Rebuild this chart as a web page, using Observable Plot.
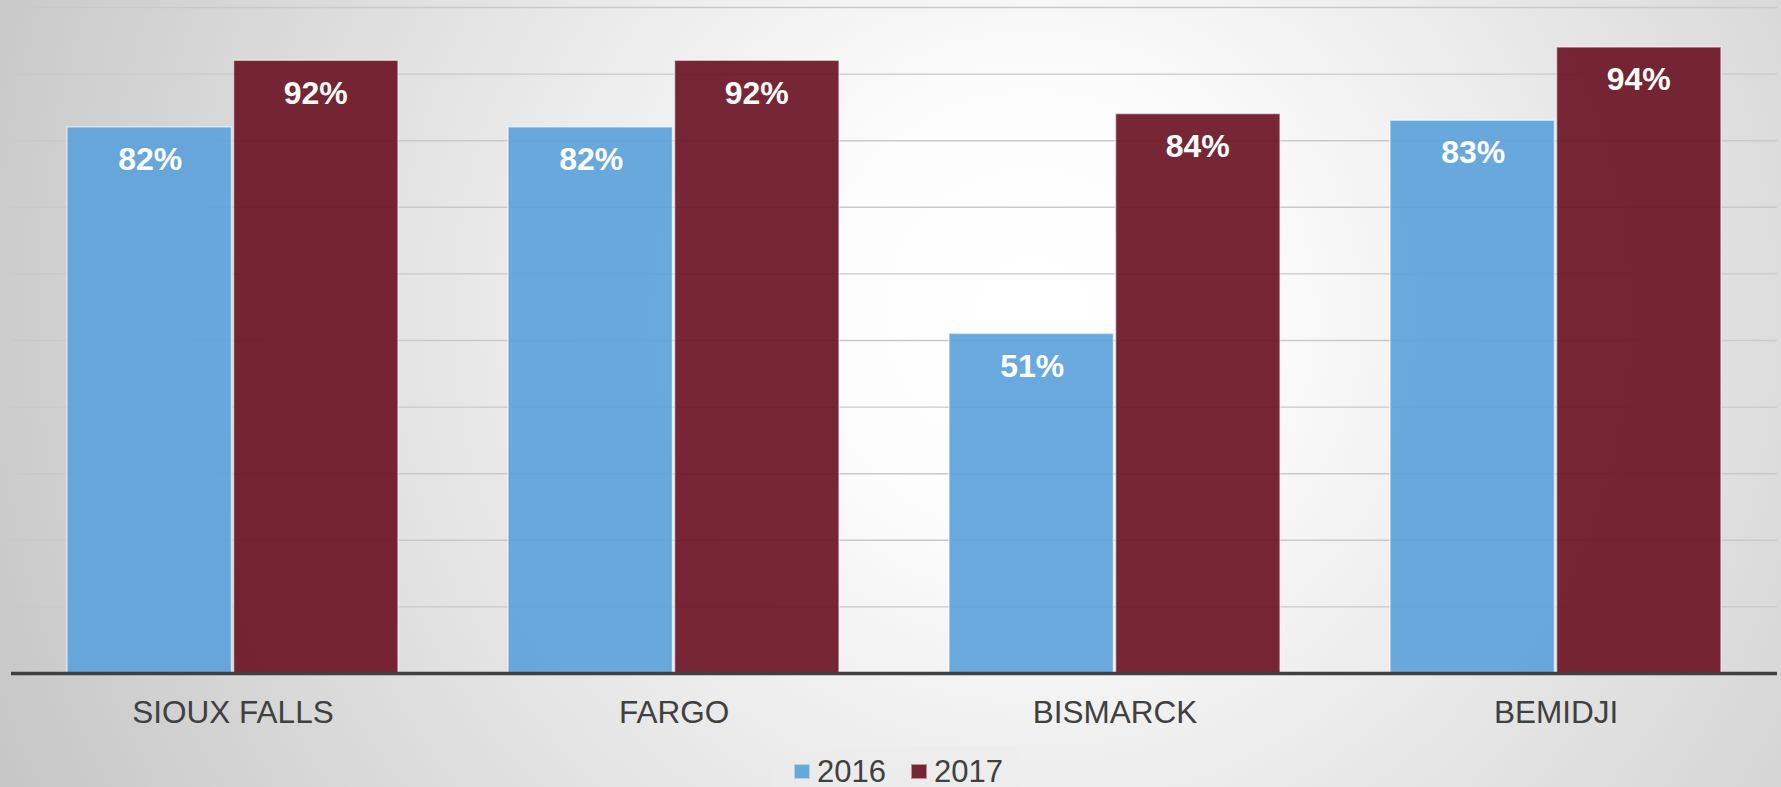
<!DOCTYPE html>
<html>
<head>
<meta charset="utf-8">
<script src="https://cdn.jsdelivr.net/npm/d3@7"></script>
<script src="https://cdn.jsdelivr.net/npm/@observablehq/plot@0.6"></script>
<style>
  html, body { margin: 0; padding: 0; }
  body {
    width: 1781px; height: 787px; overflow: hidden; position: relative;
    background: radial-gradient(circle farthest-corner at 58% 40%, #ffffff 0%, #fdfdfd 18%, #c6c6c6 100%);
    font-family: "Liberation Sans", Arial, sans-serif;
  }
  #chart svg { background: none !important; display: block; }
  #legend {
    position: absolute; left: 770px; top: 746px; width: 247px; height: 41px;
    background: rgba(236,236,236,0.5);
    box-sizing: border-box; padding-left: 24px;
    display: flex; align-items: center; justify-content: flex-start; gap: 25px;
    font-size: 31px; color: #404040; line-height: 1;
  }
  .item { display: flex; align-items: center; gap: 7px; padding-top: 10px; }
  .sw { width: 16px; height: 15px; display: inline-block; box-sizing: border-box; }
</style>
</head>
<body>
<div id="chart"></div>
<div id="legend"></div>
<script>
const cities = ["SIOUX FALLS", "FARGO", "BISMARCK", "BEMIDJI"];
const years = ["2016", "2017"];
const values2016 = [82, 82, 51, 83];
const values2017 = [92, 92, 84, 94];
const colors = ["#5ea3da", "#6c1626"];
const gridTicks = [10, 20, 30, 40, 50, 60, 70, 80, 90, 100];

const W = 1781, H = 740, mL = 11, mR = 4, mT = 7, mB = 67;
const pIn = 0.25, pOut = 0.125;
const bw = d3.scaleBand().domain(cities).range([mL, W - mR]).paddingInner(pIn).paddingOuter(pOut).bandwidth();

const d16 = cities.map((c, i) => ({city: c, year: years[0], value: values2016[i]}));
const d17 = cities.map((c, i) => ({city: c, year: years[1], value: values2017[i]}));

const fmt = d => d.value + "%";

const plot = Plot.plot({
  width: W, height: H,
  marginLeft: mL, marginRight: mR, marginTop: mT, marginBottom: mB,
  style: {background: "none", fontFamily: "'Liberation Sans', Arial, sans-serif"},
  x: {domain: cities, paddingInner: pIn, paddingOuter: pOut, label: null, tickSize: 0, tickPadding: 27},
  y: {domain: [0, 100], axis: null},
  marks: [
    Plot.ruleY(gridTicks, {stroke: "#c9c9c9", strokeWidth: 1.4}),
    Plot.barY(d16, {x: "city", y: "value", fill: colors[0], fillOpacity: 0.93, insetRight: bw / 2 + 1, stroke: "#ffffff", strokeOpacity: 0.55, strokeWidth: 1.5}),
    Plot.barY(d17, {x: "city", y: "value", fill: colors[1], fillOpacity: 0.93, insetLeft: bw / 2 + 1, stroke: "#ffffff", strokeOpacity: 0.55, strokeWidth: 1.5}),
    Plot.ruleY([0], {stroke: "#404040", strokeWidth: 3.5}),
    Plot.text(d16, {x: "city", y: "value", text: fmt, dx: -bw / 4, dy: 20, lineAnchor: "top", fill: "white", fontSize: 32, fontWeight: "bold"}),
    Plot.text(d17, {x: "city", y: "value", text: fmt, dx: bw / 4, dy: 20, lineAnchor: "top", fill: "white", fontSize: 32, fontWeight: "bold"}),
    Plot.axisX({tickSize: 0, tickPadding: 27, fontSize: 31.5, color: "#404040", fill: "#404040", label: null})
  ]
});
document.getElementById("chart").appendChild(plot);

const leg = document.getElementById("legend");
years.forEach((y, i) => {
  const it = document.createElement("div");
  it.className = "item";
  const sw = document.createElement("span");
  sw.className = "sw";
  sw.style.background = colors[i];
  sw.style.opacity = 0.93;
  sw.style.border = "1px solid rgba(255,255,255,0.5)";
  const t = document.createElement("span");
  t.textContent = y;
  it.appendChild(sw); it.appendChild(t);
  leg.appendChild(it);
});
</script>
</body>
</html>
